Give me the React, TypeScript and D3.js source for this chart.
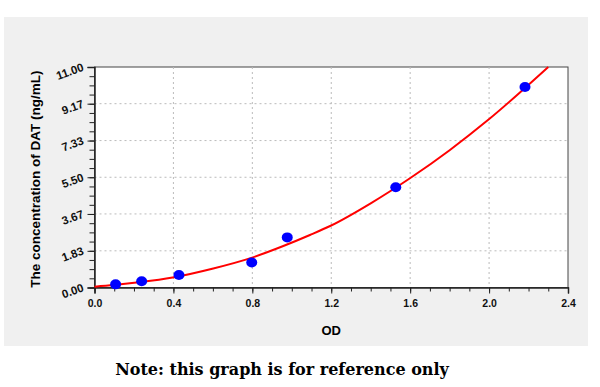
import React, { useEffect, useRef } from 'react';
import * as d3 from 'd3';

// standard points (OD, concentration)
const odValues = [0.107, 0.239, 0.428, 0.797, 0.977, 1.527, 2.182];
const concValues = [0.156, 0.312, 0.625, 1.25, 2.5, 5, 10];

// fitted curve
const curveOd = [0, 0.098, 0.236, 0.396, 0.602, 0.795, 0.957, 1.092, 1.197, 1.4, 1.599, 1.8, 1.999, 2.3];
const curveConc = [0.04, 0.12, 0.27, 0.5, 0.95, 1.48, 2.07, 2.62, 3.08, 4.2, 5.45, 6.85, 8.39, 11.0];

const yTicks = [0, 1.83, 3.67, 5.5, 7.33, 9.17, 11.0];
const xTicks = [0, 0.4, 0.8, 1.2, 1.6, 2.0, 2.4];

export default function App() {
  const ref = useRef<SVGSVGElement>(null);

  useEffect(() => {
    const svg = d3.select(ref.current);
    svg.selectAll('*').remove();

    const left = 94.5, right = 568, top = 67, bottom = 287.5;
    const x = d3.scaleLinear().domain([0, 2.4]).range([left, right]);
    const y = d3.scaleLinear().domain([0, 11]).range([bottom, top]);

    svg.append('rect').attr('x', 4).attr('y', 17).attr('width', 584).attr('height', 329).attr('fill', '#f0f0f0');
    svg.append('rect').attr('x', left).attr('y', top).attr('width', right - left).attr('height', bottom - top)
      .attr('fill', '#fff').attr('stroke', '#444').attr('stroke-width', 1);

    // grid
    const grid = svg.append('g').attr('stroke', '#bbb').attr('stroke-dasharray', '2,3').attr('stroke-width', 1);
    xTicks.slice(1, -1).forEach(t => {
      grid.append('line').attr('x1', x(t)).attr('x2', x(t)).attr('y1', top).attr('y2', bottom);
    });
    yTicks.slice(1, -1).forEach(t => {
      grid.append('line').attr('x1', left).attr('x2', right).attr('y1', y(t)).attr('y2', y(t));
    });

    // x axis
    const xAxis = svg.append('g').attr('transform', `translate(0,${bottom})`);
    xAxis.call(d3.axisBottom(x).tickValues(d3.range(0, 2.41, 0.1)).tickSize(4).tickFormat(() => ''));
    xAxis.call(g => g.select('.domain').remove());
    const xMaj = svg.append('g').attr('transform', `translate(0,${bottom})`)
      .call(d3.axisBottom(x).tickValues(xTicks).tickSize(6).tickPadding(6).tickFormat(d3.format('.1f')));
    xMaj.select('.domain').attr('stroke', '#222').attr('stroke-width', 1.5);
    xMaj.selectAll('text').attr('font-family', 'Liberation Sans, Arial, sans-serif').attr('font-weight', 'bold').attr('font-size', 10.5).attr('fill', '#111');

    // y axis
    const yAxis = svg.append('g').attr('transform', `translate(${left},0)`);
    yAxis.call(d3.axisLeft(y).tickValues(d3.range(0, 24.1, 1).map(v => v * 11 / 24)).tickSize(5).tickFormat(() => ''));
    yAxis.call(g => g.select('.domain').remove());
    const yMaj = svg.append('g').attr('transform', `translate(${left},0)`)
      .call(d3.axisLeft(y).tickValues(yTicks).tickSize(7).tickFormat(d3.format('.2f')));
    yMaj.select('.domain').attr('stroke', '#222').attr('stroke-width', 1.5);
    yMaj.selectAll('text')
      .attr('font-family', 'Liberation Sans, Arial, sans-serif').attr('font-weight', 'bold').attr('font-size', 11.5).attr('fill', '#111')
      .attr('text-anchor', 'end').attr('dy', null).attr('x', -11).attr('y', 3)
      .attr('transform', 'rotate(-20,-11,0)');
    svg.selectAll('.tick line').attr('stroke', '#222');

    // curve
    const pts = curveOd.map((d, i) => [d, curveConc[i]] as [number, number]);
    svg.append('path').datum(pts)
      .attr('d', d3.line<[number, number]>().x(d => x(d[0])).y(d => y(d[1])).curve(d3.curveMonotoneX))
      .attr('fill', 'none').attr('stroke', '#ff0000').attr('stroke-width', 2);

    // points
    svg.append('g').selectAll('ellipse').data(odValues).enter().append('ellipse')
      .attr('cx', d => x(d)).attr('cy', (d, i) => y(concValues[i]))
      .attr('rx', 5.5).attr('ry', 5).attr('fill', '#0000ff');

    // labels
    svg.append('text').attr('x', x(1.2)).attr('y', 335).attr('text-anchor', 'middle')
      .attr('font-family', 'Liberation Sans, Arial, sans-serif').attr('font-weight', 'bold').attr('font-size', 13)
      .text('OD');
    svg.append('text').attr('transform', `translate(40,${(top + bottom) / 2 + 2}) rotate(-90)`).attr('text-anchor', 'middle')
      .attr('font-family', 'Liberation Sans, Arial, sans-serif').attr('font-weight', 'bold').attr('font-size', 13.5)
      .text('The concentration of DAT (ng/mL)');
    svg.append('text').attr('x', 282).attr('y', 375).attr('text-anchor', 'middle')
      .attr('font-family', 'DejaVu Serif, serif').attr('font-weight', 'bold').attr('font-size', 16)
      .text('Note: this graph is for reference only');
  }, []);

  return (
    <div style={{ position: 'absolute', left: 0, top: 0 }}>
      <svg ref={ref} width={600} height={387} style={{ display: 'block', background: '#fff' }} />
    </div>
  );
}
